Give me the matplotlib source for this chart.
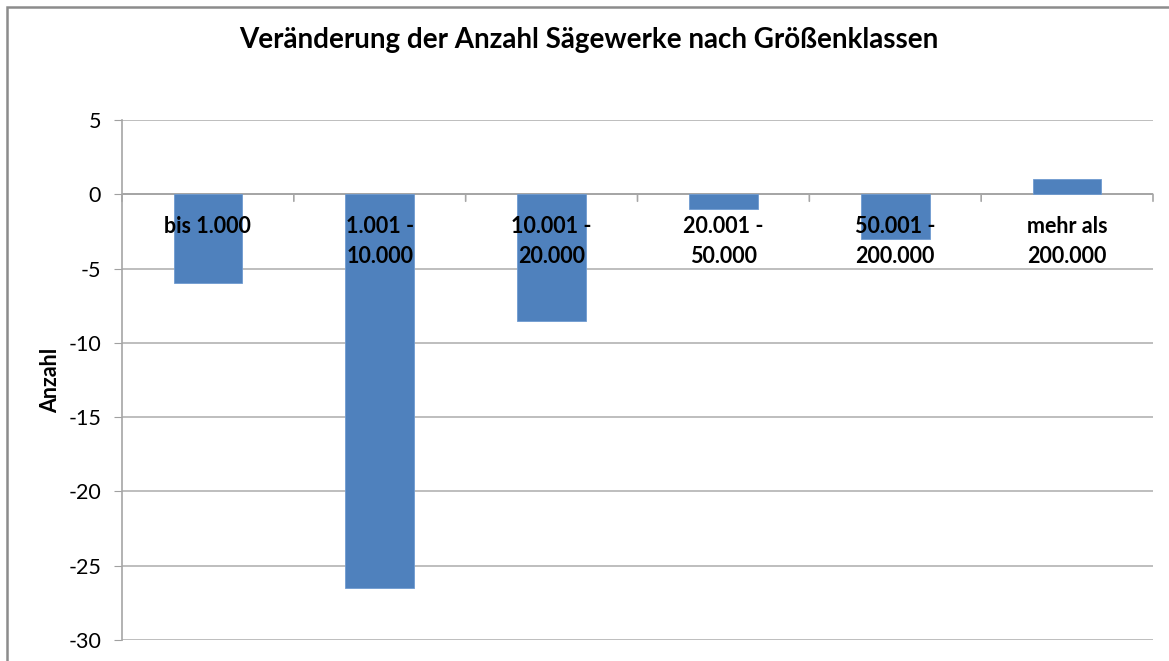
import matplotlib.pyplot as plt
from matplotlib.patches import Rectangle

plt.rcParams['font.family'] = ['Lato', 'DejaVu Sans']

# Daten
kategorien = ['bis 1.000', '1.001 -\n10.000', '10.001 -\n20.000',
              '20.001 -\n50.000', '50.001 -\n200.000', 'mehr als\n200.000']
werte = [-6, -26.5, -8.5, -1, -3, 1]
y_ticks = [5, 0, -5, -10, -15, -20, -25, -30]

W, H = 1169, 661
fig = plt.figure(figsize=(W / 100, H / 100), dpi=100)
ax = fig.add_axes([122 / W, 1 - 640 / H, (1153 - 122) / W, (640 - 120) / H])

# Rahmen um das Diagramm (rechts/unten abgeschnitten)
fig.patches.append(Rectangle((7 / W, -0.1), 1.2, 1 - 7 / H + 0.1,
                             transform=fig.transFigure, fill=False,
                             edgecolor='#8c8c8c', linewidth=1.8))

x = list(range(len(werte)))
ax.bar(x, werte, width=0.4, color='#4f81bd', edgecolor='#6f9bd1', linewidth=0.6, zorder=3)

ax.set_xlim(-0.5, len(werte) - 0.5)
ax.set_ylim(-30, 5)
ax.set_yticks(y_ticks)
ax.set_yticklabels([str(v) for v in y_ticks], fontsize=15.5)
ax.tick_params(axis='y', length=6, color='#a0a0a0', pad=9)
ax.set_xticks([])
for v in y_ticks:
    ax.axhline(v, color='#b3b3b3', linewidth=1.2, zorder=1)
ax.axhline(0, color='#a6a6a6', linewidth=1.4, zorder=2)

for s in ['top', 'right', 'bottom']:
    ax.spines[s].set_visible(False)
ax.spines['left'].set_color('#a6a6a6')
ax.spines['left'].set_linewidth(1.2)

# Teilstriche an der Nulllinie
for b in [i - 0.5 for i in range(len(werte) + 1)]:
    ax.annotate('', xy=(b, 0), xytext=(0, -5), textcoords='offset points',
                arrowprops=dict(arrowstyle='-', color='#a6a6a6', lw=1.2,
                                shrinkA=0, shrinkB=0))

# Kategoriebeschriftungen an der Nulllinie
for i, lab in enumerate(kategorien):
    for j, zeile in enumerate(lab.split('\n')):
        ax.annotate(zeile, xy=(i, 0), xytext=(0, -23 - j * 21.6),
                    textcoords='offset points', ha='center', va='center',
                    fontsize=15.5, fontweight='bold', zorder=5)

ax.set_ylabel('Anzahl', fontsize=15.5, fontweight='bold', labelpad=5)
fig.text(589 / W, 1 - 40 / H, 'Veränderung der Anzahl Sägewerke nach Größenklassen',
         ha='center', va='center', fontsize=20, fontweight='bold')

fig.savefig('out.png', dpi=100)
